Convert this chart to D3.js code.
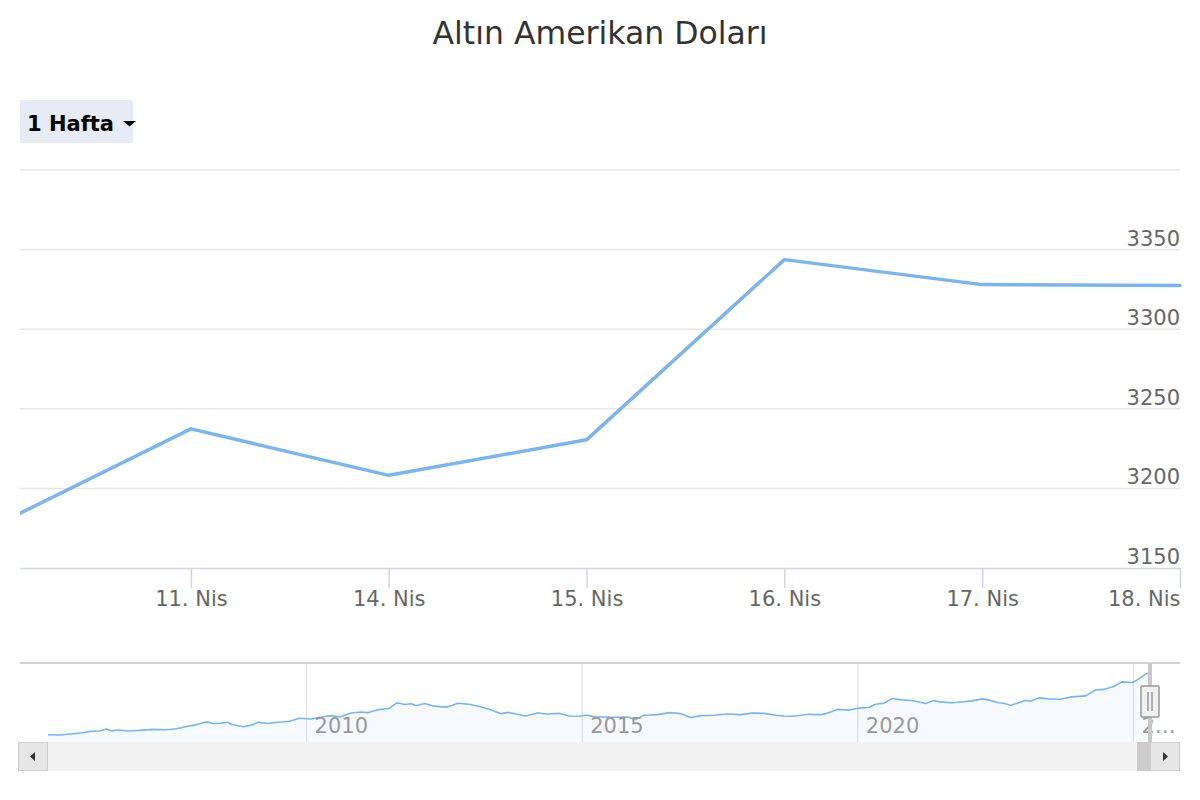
<!DOCTYPE html>
<html><head><meta charset="utf-8">
<script src="https://cdn.jsdelivr.net/npm/d3@7"></script>
<style>
body{margin:0;background:#fff;}
svg{display:block;font-family:"DejaVu Sans",sans-serif;}
</style>
</head><body>
<svg id="c" width="1200" height="800"></svg>
<script>
// ---------- data ----------
const chartTitle = "Altın Amerikan Doları";
const rangeLabel = "1 Hafta";
const dates = ["2025-04-10","2025-04-11","2025-04-14","2025-04-15","2025-04-16","2025-04-17","2025-04-18"];
const prices = [3176.0, 3237.4, 3208.2, 3230.5, 3343.7, 3328.0, 3327.4];
const xTickLabels = ["10. Nis","11. Nis","14. Nis","15. Nis","16. Nis","17. Nis","18. Nis"];
const xTickIndex = [1,2,3,4,5,6];
const yTicks = [3150,3200,3250,3300,3350,3400];
const yLabelTicks = [3150,3200,3250,3300,3350];

const navYears = [2005.31,2005.53,2005.77,2005.95,2006.07,2006.25,2006.37,2006.46,2006.58,2006.76,2006.97,
  2007.21,2007.46,2007.64,2007.82,2008.00,2008.15,2008.21,2008.30,2008.45,2008.57,2008.64,2008.85,
  2009.00,2009.12,2009.30,2009.48,2009.69,2009.87,2010.09,2010.27,2010.45,2010.60,2010.81,2010.99,
  2011.11,2011.29,2011.50,2011.64,2011.78,2011.90,2011.99,2012.14,2012.32,2012.53,2012.65,2012.74,
  2012.95,2013.16,2013.35,2013.53,2013.65,2013.80,2013.98,2014.19,2014.37,2014.58,2014.76,2014.95,
  2015.07,2015.25,2015.40,2015.58,2015.82,2015.97,2016.12,2016.36,2016.58,2016.79,2016.97,2017.15,
  2017.39,2017.63,2017.88,2018.09,2018.30,2018.51,2018.66,2018.81,2019.11,2019.35,2019.47,2019.63,
  2019.84,2020.02,2020.20,2020.32,2020.47,2020.62,2020.80,2020.98,2021.23,2021.38,2021.47,2021.71,
  2021.95,2022.07,2022.25,2022.37,2022.55,2022.64,2022.77,2022.92,2023.04,2023.13,2023.28,2023.46,
  2023.67,2023.88,2024.13,2024.31,2024.46,2024.64,2024.79,2024.97,2025.06,2025.23,2025.30];
const navValues = [444,430,490,536,600,614,706,614,660,614,646,
  692,674,720,830,904,1028,1042,968,982,1028,922,812,
  890,1028,968,1028,1074,1212,1180,1272,1336,1272,1456,1502,
  1474,1612,1672,1934,1856,1888,1796,1902,1778,1732,1824,1916,
  1870,1750,1594,1428,1488,1410,1318,1456,1410,1442,1318,1304,
  1364,1272,1272,1258,1272,1152,1350,1382,1474,1428,1244,1336,
  1350,1410,1382,1456,1442,1350,1318,1304,1396,1382,1474,1626,
  1594,1686,1718,1870,1916,2132,2072,2040,1902,2040,1980,1934,
  1994,2026,2118,2072,1934,1916,1824,1934,2054,2008,2164,2118,
  2100,2210,2256,2532,2560,2698,2914,2882,2992,3296,3327];
const navTicks = [2010,2015,2020,2025];

// ---------- layout ----------
const W = 1200;
const plot = {left:20, right:1180, top:170, bottom:568};
const nav = {left:48, right:1150, top:663, bottom:742, outerLeft:20, outerRight:1180};
const sb = {top:742, bottom:771, left:18, right:1180, btn:30};
const lineColor = "#7cb5ec";

const svg = d3.select("#c");

// title
svg.append("text").attr("x", W/2).attr("y", 44).attr("text-anchor","middle")
  .attr("fill","#333").style("font-size","31.5px").text(chartTitle);

// range selector button
const btn = svg.append("g");
btn.append("rect").attr("x",20).attr("y",100).attr("width",113).attr("height",43).attr("rx",2)
  .attr("fill","#e6ebf5");
btn.append("text").attr("x",27).attr("y",131).attr("fill","#000")
  .style("font-size","21px").style("font-weight","bold").text(rangeLabel);
btn.append("path").attr("d","M123,121 L136,121 L129.5,126.5 Z").attr("fill","#000");

// ---------- main chart ----------
const x = d3.scaleLinear().domain([0.136, dates.length-1]).range([plot.left, plot.right]);
const y = d3.scaleLinear().domain([yTicks[0], yTicks[yTicks.length-1]]).range([plot.bottom, plot.top]);

// grid
svg.append("g").selectAll("line").data(yTicks.slice(1)).join("line")
  .attr("x1",plot.left).attr("x2",plot.right)
  .attr("y1",d=>y(d)).attr("y2",d=>y(d))
  .attr("stroke","#e6e6e6").attr("stroke-width",1.5);

// y labels
svg.append("g").selectAll("text").data(yLabelTicks).join("text")
  .attr("x",plot.right).attr("y",d=>y(d)-4).attr("text-anchor","end")
  .attr("fill","#666").style("font-size","21px").text(d=>d);

// x axis
const xAxis = d3.axisBottom(x).tickValues(xTickIndex).tickFormat(i=>xTickLabels[i])
  .tickSize(20).tickSizeOuter(0).tickPadding(3);
const gx = svg.append("g").attr("transform",`translate(0,${plot.bottom})`).call(xAxis);
gx.select(".domain").attr("stroke","#ccd6eb").attr("stroke-width",1.5);
gx.selectAll(".tick line").attr("stroke","#ccd6eb").attr("stroke-width",1.5);
gx.selectAll(".tick text").attr("fill","#666").style("font-size","21px")
  .style("font-family","DejaVu Sans, sans-serif").attr("dy","0.71em");
// keep last label inside the plot (right aligned on its tick)
gx.selectAll(".tick text").filter(d=>d===xTickIndex[xTickIndex.length-1])
  .attr("text-anchor","end");

// clip + line
svg.append("clipPath").attr("id","clipMain").append("rect")
  .attr("x",plot.left).attr("y",plot.top-5).attr("width",plot.right-plot.left+2).attr("height",plot.bottom-plot.top+5);
const line = d3.line().x((d,i)=>x(i)).y(d=>y(d));
svg.append("path").datum(prices).attr("clip-path","url(#clipMain)")
  .attr("d",line).attr("fill","none").attr("stroke",lineColor)
  .attr("stroke-width",3.5).attr("stroke-linejoin","round").attr("stroke-linecap","round");

// ---------- navigator ----------
const nx = d3.scaleLinear().domain([navYears[0], navYears[navYears.length-1]]).range([nav.left, nav.right]);
const ny = d3.scaleLinear().domain(d3.extent(navValues)).range([735, 673]);

// grid lines
svg.append("g").selectAll("line").data(navTicks).join("line")
  .attr("x1",d=>nx(d)).attr("x2",d=>nx(d)).attr("y1",nav.top).attr("y2",nav.bottom)
  .attr("stroke","#e6e6e6").attr("stroke-width",1.5);

// area + line
const navPts = navYears.map((t,i)=>[t,navValues[i]]);
const area = d3.area().x(d=>nx(d[0])).y0(nav.bottom).y1(d=>ny(d[1]));
svg.append("path").datum(navPts).attr("d",area).attr("fill",lineColor).attr("fill-opacity",0.07);
const nline = d3.line().x(d=>nx(d[0])).y(d=>ny(d[1]));
svg.append("path").datum(navPts).attr("d",nline).attr("fill","none")
  .attr("stroke",lineColor).attr("stroke-width",1.6).attr("stroke-linejoin","round");

// labels
const navLabels = svg.append("g").selectAll("text").data(navTicks).join("text")
  .attr("x",d=>nx(d)+8).attr("y",733).attr("fill","#999").style("font-size","21px").text(d=>d);
navLabels.each(function(d){
  const el = d3.select(this);
  const avail = nav.outerRight - (nx(d)+8) - 2;
  if (this.getComputedTextLength() > avail) {
    let s = String(d);
    while (s.length > 1) {
      s = s.slice(0,-1);
      el.text(s + "…");
      if (this.getComputedTextLength() <= avail) break;
    }
  }
});

// outline
const selX = nx(navYears[navYears.length-1]);
svg.append("path")
  .attr("d",`M${nav.outerLeft},${nav.top} H${selX-1} V${nav.bottom} M${selX+1},${nav.bottom} V${nav.top} H${nav.outerRight}`)
  .attr("fill","none").attr("stroke","#c8c8c8").attr("stroke-width",1.5);
svg.append("rect").attr("x",selX-2).attr("y",nav.top).attr("width",4).attr("height",nav.bottom-nav.top)
  .attr("fill","#c8c8c8").attr("opacity",0.9);

// scrollbar
svg.append("rect").attr("x",sb.left+sb.btn).attr("y",sb.top).attr("width",sb.right-sb.left-2*sb.btn)
  .attr("height",sb.bottom-sb.top).attr("fill","#f2f2f2");
svg.append("rect").attr("x",selX-13).attr("y",sb.top).attr("width",15).attr("height",sb.bottom-sb.top)
  .attr("fill","#cccccc");
[[sb.left, -1],[sb.right-sb.btn, 1]].forEach(([bx,dir])=>{
  svg.append("rect").attr("x",bx+0.5).attr("y",sb.top+0.5).attr("width",sb.btn-1).attr("height",sb.bottom-sb.top-1)
    .attr("fill","#e6e6e6").attr("stroke","#cccccc");
  const cx = bx + sb.btn/2, cy = (sb.top+sb.bottom)/2;
  const p = dir<0 ? `M${cx+2},${cy-4.5} L${cx-3},${cy} L${cx+2},${cy+4.5} Z`
                  : `M${cx-2},${cy-4.5} L${cx+3},${cy} L${cx-2},${cy+4.5} Z`;
  svg.append("path").attr("d",p).attr("fill","#333");
});

// handle
const hg = svg.append("g");
hg.append("rect").attr("x",selX-9).attr("y",686).attr("width",18).attr("height",31).attr("rx",1)
  .attr("fill","#f2f2f2").attr("stroke","#999").attr("stroke-width",1.5);
[-2,2].forEach(o=>hg.append("line").attr("x1",selX+o).attr("x2",selX+o).attr("y1",692).attr("y2",711)
  .attr("stroke","#999").attr("stroke-width",1.5));
</script>
</body></html>
